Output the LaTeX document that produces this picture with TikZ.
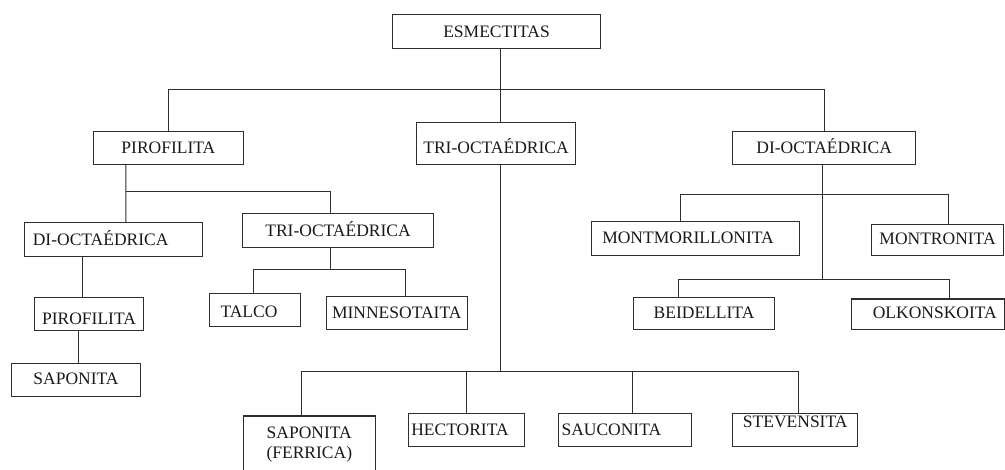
\documentclass[tikz,border=0pt]{standalone}
\usepackage{fontspec}
\setmainfont{Liberation Serif}
\begin{document}
\begin{tikzpicture}[x=1pt,y=-1pt,
  linec/.style={draw=black!82, line width=1.1pt},
  box/.style={linec, rectangle, anchor=north west, inner ysep=0pt,
    font=\fontsize{17.5pt}{20pt}\selectfont, text=black!90},
  cbox/.style={box, align=center, inner xsep=0pt},
  lbox/.style={box, align=left},
  rbox/.style={box, align=right},
  wire/.style={linec}]
\useasboundingbox (0,0) rectangle (1005,470);

% root
\node[cbox, text width=208pt, text height=22.4pt, text depth=11pt] (esm) at (392,14.3) {ESMECTITAS};

% first level
\node[cbox, text width=149.7pt, text height=22pt, text depth=11pt] (pt) at (93,130.7) {PIROFILITA};
\node[cbox, text width=158.4pt, text height=30.4pt, text depth=11pt] (tm) at (416.3,122.3) {TRI-OCTAÉDRICA};
\node[cbox, text width=182.7pt, text height=22pt, text depth=11pt] (dr) at (732.3,130.7) {DI-OCTAÉDRICA};

% left branch
\node[lbox, inner xsep=8.6pt, text width=161.4pt, text height=23pt, text depth=10.7pt] (dl) at (23.7,222) {DI-OCTAÉDRICA};
\node[cbox, text width=190.4pt, text height=22.4pt, text depth=11pt] (tl) at (242.3,213.3) {TRI-OCTAÉDRICA};
\node[cbox, text width=108.4pt, text height=27.6pt, text depth=5.7pt] (ps) at (34.3,296.7) {PIROFILITA};
\node[cbox, text width=128.4pt, text height=21pt, text depth=11.7pt] (sp) at (11.3,363.3) {SAPONITA};
\node[lbox, inner xsep=10.7pt, text width=69.6pt, text height=24pt, text depth=9pt] (ta) at (209.3,293.3) {TALCO};
\node[cbox, text width=141pt, text height=22pt, text depth=10.4pt] (mi) at (325.7,296.3) {MINNESOTAITA};

% middle branch (the lowest box runs past the lower edge)
\node[cbox, text width=132.5pt, text height=22.2pt, text depth=70pt] (sf) at (242.5,415.5) {SAPONITA\\(FERRICA)};
\node[lbox, inner xsep=2.4pt, text width=111.2pt, text height=22.3pt, text depth=11pt] (he) at (408.3,412.7) {HECTORITA};
\node[lbox, inner xsep=3.3pt, text width=126.4pt, text height=22.3pt, text depth=11pt] (sa) at (557.7,412.7) {SAUCONITA};
\node[cbox, text width=124.7pt, text height=14pt, text depth=19.3pt] (st) at (732.3,412.7) {STEVENSITA};

% right branch
\node[lbox, inner xsep=10.7pt, text width=186.6pt, text height=22pt, text depth=11.7pt] (mo) at (591,221.3) {MONTMORILLONITA};
\node[cbox, text width=132pt, text height=20.3pt, text depth=10.7pt] (mt) at (871,224) {MONTRONITA};
\node[cbox, text width=141.6pt, text height=21.6pt, text depth=11pt] (be) at (632.7,296.7) {BEIDELLITA};
\node[rbox, inner xsep=7.7pt, text width=137.6pt, text height=19.8pt, text depth=11pt] (ol) at (851,298.5) {OLKONSKOITA};

% bus levels
\coordinate (busA) at (0,89.3);
\coordinate (busL) at (0,191.3);
\coordinate (busT) at (0,269.3);
\coordinate (busM) at (0,371.3);
\coordinate (busR1) at (0,194.3);
\coordinate (busR2) at (0,279.3);

% root to first level
\draw[wire] ([xshift=3.5pt]esm.south) -- ([xshift=4pt]tm.north);
\draw[wire] (pt.north) |- (dr.north |- busA) -- (dr.north);

% left branch
\draw[wire] ([xshift=-42.5pt]pt.south) -- ([xshift=12.3pt]dl.north);
\draw[wire] ([xshift=-42.5pt]pt.south |- busL) -| ([xshift=-7.5pt]tl.north);
\draw[wire] ([xshift=-30.7pt]dl.south) -- ([xshift=-6.2pt]ps.north);
\draw[wire] ([xshift=-10.8pt]ps.south) -- ([xshift=2.2pt]sp.north);
\draw[wire] ([xshift=-7.8pt]tl.south) -- ([xshift=-7.8pt]tl.south |- busT);
\draw[wire] ([xshift=-1.5pt]ta.north) |- ([xshift=9.1pt]mi.north |- busT) -- ([xshift=9.1pt]mi.north);

% middle branch
\draw[wire] ([xshift=4pt]tm.south) -- ([xshift=4pt]tm.south |- busM);
\draw[wire] ([xshift=-8pt]sf.north) |- ([xshift=3.6pt]st.north |- busM) -- ([xshift=3.6pt]st.north);
\draw[wire] (he.north) -- (he.north |- busM);
\draw[wire] ([xshift=7.5pt]sa.north) -- ([xshift=7.5pt]sa.north |- busM);

% right branch
\draw[wire] ([xshift=-2pt]dr.south) -- ([xshift=-2pt]dr.south |- busR2);
\draw[wire] ([xshift=-15pt]mo.north) |- ([xshift=11.3pt]mt.north |- busR1) -- ([xshift=11.3pt]mt.north);
\draw[wire] ([xshift=-25.2pt]be.north) |- ([xshift=21.3pt]ol.north |- busR2) -- ([xshift=21.3pt]ol.north);
\end{tikzpicture}
\end{document}
